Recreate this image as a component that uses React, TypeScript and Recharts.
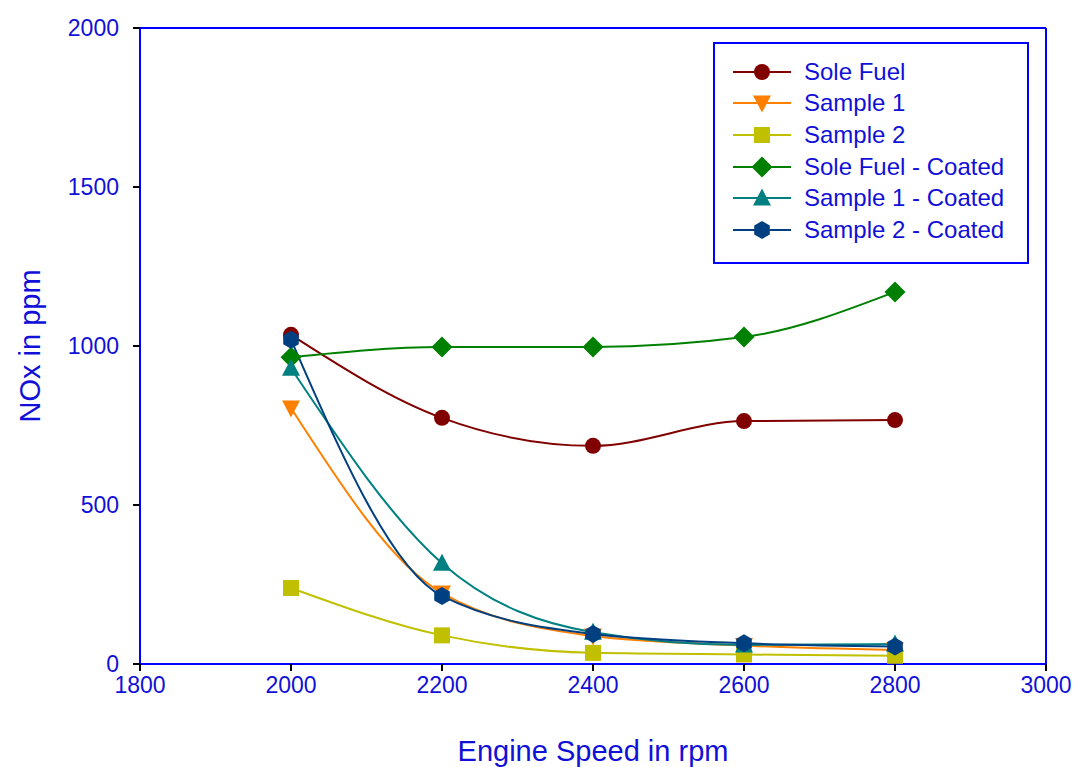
import React from "react";
import {
  LineChart,
  Line,
  XAxis,
  YAxis,
  Legend,
  ReferenceLine,
} from "recharts";

const speeds = [2000, 2200, 2400, 2600, 2800];
const soleFuel = [1035, 774, 686, 764, 767];
const sample1 = [805, 223, 88, 58, 44];
const sample2 = [239, 90, 35, 30, 26];
const soleFuelCoated = [965, 997, 997, 1028, 1170];
const sample1Coated = [930, 317, 100, 60, 63];
const sample2Coated = [1020, 214, 94, 65, 55];

const xTicks = [1800, 2000, 2200, 2400, 2600, 2800, 3000];
const yTicks = [0, 500, 1000, 1500, 2000];

const data = speeds.map((s, i) => ({
  speed: s,
  soleFuel: soleFuel[i],
  sample1: sample1[i],
  sample2: sample2[i],
  soleFuelCoated: soleFuelCoated[i],
  sample1Coated: sample1Coated[i],
  sample2Coated: sample2Coated[i],
}));

type Shape = "circle" | "triDown" | "square" | "diamond" | "triUp" | "hexagon";

const series: { key: string; name: string; color: string; shape: Shape }[] = [
  { key: "soleFuel", name: "Sole Fuel", color: "#800000", shape: "circle" },
  { key: "sample1", name: "Sample 1", color: "#FF8000", shape: "triDown" },
  { key: "sample2", name: "Sample 2", color: "#C0C000", shape: "square" },
  { key: "soleFuelCoated", name: "Sole Fuel - Coated", color: "#008000", shape: "diamond" },
  { key: "sample1Coated", name: "Sample 1 - Coated", color: "#008080", shape: "triUp" },
  { key: "sample2Coated", name: "Sample 2 - Coated", color: "#004080", shape: "hexagon" },
];

const BLUE = "#0000FF";
const TEXT = "#1010D8";
const FONT = "'Liberation Sans', Arial, sans-serif";

function Marker({ cx, cy, shape, color }: { cx: number; cy: number; shape: Shape; color: string }) {
  if (cx == null || cy == null || isNaN(cx) || isNaN(cy)) return null;
  switch (shape) {
    case "circle":
      return <circle cx={cx} cy={cy} r={8} fill={color} />;
    case "triDown":
      return (
        <polygon
          points={`${cx - 9},${cy - 7.5} ${cx + 9},${cy - 7.5} ${cx},${cy + 9.5}`}
          fill={color}
        />
      );
    case "square":
      return <rect x={cx - 8} y={cy - 8} width={16} height={16} fill={color} />;
    case "diamond":
      return (
        <polygon
          points={`${cx},${cy - 10.5} ${cx + 10.5},${cy} ${cx},${cy + 10.5} ${cx - 10.5},${cy}`}
          fill={color}
        />
      );
    case "triUp":
      return (
        <polygon
          points={`${cx - 9},${cy + 7.5} ${cx + 9},${cy + 7.5} ${cx},${cy - 9.5}`}
          fill={color}
        />
      );
    case "hexagon": {
      const r = 9;
      const pts = [0, 1, 2, 3, 4, 5]
        .map((k) => {
          const a = (Math.PI / 180) * (90 + 60 * k);
          return `${cx + r * Math.cos(a)},${cy + r * Math.sin(a)}`;
        })
        .join(" ");
      return <polygon points={pts} fill={color} />;
    }
  }
  return null;
}

function LegendContent(props: any) {
  const payload = [...(props.payload || [])].sort(
    (a: any, b: any) =>
      series.findIndex((s) => s.key === a.dataKey) - series.findIndex((s) => s.key === b.dataKey)
  );
  return (
    <div style={{ paddingTop: 12, paddingLeft: 0 }}>
      {payload.map((p: any) => {
        const s = series.find((x) => x.key === p.dataKey) || series[0];
        return (
          <div
            key={s.key}
            style={{ display: "flex", alignItems: "center", height: 31.6 }}
          >
            <svg width={60} height={30} style={{ marginLeft: 17, display: "block" }}>
              <line x1={1} y1={15} x2={59} y2={15} stroke={s.color} strokeWidth={2} />
              <Marker cx={30} cy={15} shape={s.shape} color={s.color} />
            </svg>
            <span
              style={{
                marginLeft: 12,
                color: TEXT,
                fontSize: 24,
                fontFamily: FONT,
                lineHeight: "30px",
                whiteSpace: "nowrap",
              }}
            >
              {p.value}
            </span>
          </div>
        );
      })}
    </div>
  );
}

export default function App() {
  return (
    <div style={{ position: "absolute", left: 0, top: 0, width: 1075, height: 767, background: "#fff" }}>
      <LineChart
        width={1075}
        height={767}
        data={data}
        margin={{ top: 28, right: 29, left: 20, bottom: 43 }}
        style={{ fontFamily: FONT }}
      >
        <XAxis
          dataKey="speed"
          type="number"
          domain={[1800, 3000]}
          ticks={xTicks}
          allowDataOverflow
          height={60}
          stroke={BLUE}
          strokeWidth={2}
          tickLine={{ stroke: "#000", strokeWidth: 2 }}
          tickSize={7}
          tickMargin={6}
          tick={{ fill: TEXT, fontSize: 23, fontFamily: FONT }}
          label={{
            value: "Engine Speed in rpm",
            position: "bottom",
            offset: 16,
            fill: TEXT,
            fontSize: 29,
            fontFamily: FONT,
          }}
        />
        <YAxis
          type="number"
          domain={[0, 2000]}
          ticks={yTicks}
          allowDataOverflow
          width={120}
          stroke={BLUE}
          strokeWidth={2}
          tickLine={{ stroke: "#000", strokeWidth: 2 }}
          tickSize={7}
          tickMargin={14}
          tick={{ fill: TEXT, fontSize: 23, fontFamily: FONT }}
          label={{
            value: "NOx in ppm",
            angle: -90,
            position: "insideLeft",
            offset: 10,
            fill: TEXT,
            fontSize: 29,
            fontFamily: FONT,
            style: { textAnchor: "middle" },
          }}
        />
        <ReferenceLine y={2000} stroke={BLUE} strokeWidth={2} />
        <ReferenceLine x={3000} stroke={BLUE} strokeWidth={2} />
        {series.map((s) => (
          <Line
            key={s.key}
            dataKey={s.key}
            name={s.name}
            type="monotone"
            stroke={s.color}
            strokeWidth={2}
            isAnimationActive={false}
            dot={(props: any) => (
              <Marker
                key={`${s.key}-${props.index}`}
                cx={props.cx}
                cy={props.cy}
                shape={s.shape}
                color={s.color}
              />
            )}
            activeDot={false}
          />
        ))}
        <Legend
          layout="vertical"
          align="center"
          verticalAlign="middle"
          content={<LegendContent />}
          wrapperStyle={{
            position: "absolute",
            left: 713,
            top: 42,
            width: 316,
            height: 222,
            border: `2px solid ${BLUE}`,
            background: "#fff",
            boxSizing: "border-box",
            margin: 0,
          }}
        />
      </LineChart>
    </div>
  );
}
